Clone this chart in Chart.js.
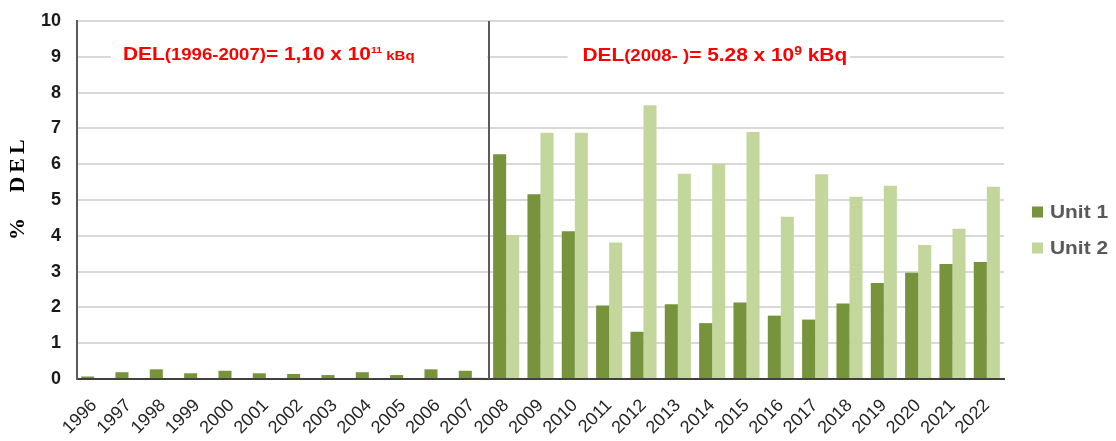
<!DOCTYPE html>
<html><head><meta charset="utf-8">
<script src="https://cdn.jsdelivr.net/npm/chart.js@4.4.0/dist/chart.umd.min.js"></script>
<style>html,body{margin:0;padding:0;background:#fff;overflow:hidden}</style>
</head><body>
<canvas id="c" width="1116" height="441" style="display:block;width:1116px;height:441px"></canvas>
<script>
const years = ['1996','1997','1998','1999','2000','2001','2002','2003','2004','2005','2006','2007',
  '2008','2009','2010','2011','2012','2013','2014','2015','2016','2017','2018','2019','2020','2021','2022'];
const unit1 = [0.07,0.19,0.27,0.16,0.23,0.16,0.14,0.11,0.19,0.11,0.27,0.23,
  6.28,5.16,4.13,2.05,1.32,2.09,1.56,2.14,1.77,1.66,2.11,2.68,2.97,3.21,3.27];
const unit2 = [null,null,null,null,null,null,null,null,null,null,null,0.04,
  4.02,6.88,6.88,3.81,7.65,5.73,6.01,6.90,4.53,5.72,5.09,5.40,3.74,4.20,5.37];
const seriesNames = ['Unit 1','Unit 2'];
const seriesColors = ['#77933C','#C3D69B'];
const yMin = 0, yMax = 10, yStep = 1;
const yTitle = ['%','DEL'];
const noteLeft = [{t:'DEL',size:18},{t:'(1996-2007)',size:16},{t:'= 1,10 x 10',size:18},{t:'11',size:9,rise:7},{t:' kBq',size:13}];
const noteRight = [{t:'DEL',size:18},{t:'(2008- )',size:16},{t:'= 5.28 x 10',size:18},{t:'9',size:12,rise:6},{t:' kBq',size:18}];

const SX = 1.16;
const SANS = '"Liberation Sans", Arial, sans-serif';
const SERIF = '"Liberation Serif", "Times New Roman", serif';

function drawRich(ctx, x0, yBase, segs){
  ctx.save();
  ctx.translate(x0, yBase);
  ctx.scale(SX, 1);
  ctx.fillStyle = '#FF0000';
  ctx.textBaseline = 'alphabetic';
  ctx.textAlign = 'left';
  let x = 0;
  for (const s of segs){
    ctx.font = `bold ${s.size}px ${SANS}`;
    ctx.fillText(s.t, x, -(s.rise || 0));
    x += ctx.measureText(s.t).width;
  }
  ctx.restore();
}

const decor = {
  id: 'decor',
  beforeDatasetsDraw(chart){
    const {ctx, chartArea:a, scales:{x, y}} = chart;
    ctx.save();
    ctx.fillStyle = '#fff';
    let l = x.getPixelForValue(0.49), r = x.getPixelForValue(11.45);
    ctx.fillRect(l, y.getPixelForValue(9.47), r - l, y.getPixelForValue(8.58) - y.getPixelForValue(9.47));
    l = x.getPixelForValue(13.79); r = x.getPixelForValue(22.02);
    ctx.fillRect(l, y.getPixelForValue(9.47), r - l, y.getPixelForValue(8.58) - y.getPixelForValue(9.47));
    const sx = (x.getPixelForValue(11) + x.getPixelForValue(12)) / 2;
    ctx.strokeStyle = '#5a5a5a';
    ctx.lineWidth = 2;
    ctx.beginPath();
    ctx.moveTo(sx, a.top);
    ctx.lineTo(sx, a.bottom);
    ctx.stroke();
    ctx.restore();
  },
  afterDraw(chart){
    const {ctx, chartArea:a, scales:{x, y}} = chart;
    drawRich(ctx, x.getPixelForValue(0.84), y.getPixelForValue(8.91), noteLeft);
    drawRich(ctx, x.getPixelForValue(14.22), y.getPixelForValue(8.88), noteRight);
    chart.data.datasets.forEach((ds, i) => {
      const cy = 212 + i * 36;
      ctx.save();
      ctx.fillStyle = ds.backgroundColor;
      ctx.fillRect(a.right + 28, cy - 5.5, 11, 11);
      ctx.translate(a.right + 46, cy);
      ctx.scale(SX, 1);
      ctx.fillStyle = '#595959';
      ctx.font = `bold 18px ${SANS}`;
      ctx.textBaseline = 'middle';
      ctx.textAlign = 'left';
      ctx.fillText(ds.label, 0, 1);
      ctx.restore();
    });
    ctx.save();
    ctx.fillStyle = '#000';
    ctx.font = `bold 22px ${SERIF}`;
    ctx.textBaseline = 'middle';
    ctx.textAlign = 'center';
    ctx.translate(18, 0);
    ctx.rotate(-Math.PI / 2);
    ctx.fillText(yTitle[0], -229, 0);
    try { ctx.letterSpacing = '4px'; } catch(e) {}
    ctx.fillText(yTitle[1], -164, 0);
    ctx.restore();
  }
};

new Chart(document.getElementById('c'), {
  type: 'bar',
  data: {
    labels: years,
    datasets: [
      {label: seriesNames[0], data: unit1, backgroundColor: seriesColors[0], borderWidth: 0},
      {label: seriesNames[1], data: unit2, backgroundColor: seriesColors[1], borderWidth: 0}
    ]
  },
  options: {
    responsive: false,
    devicePixelRatio: 1,
    animation: false,
    layout: {padding: {left: 0, right: 112, top: 21, bottom: 0}},
    datasets: {bar: {categoryPercentage: 0.76, barPercentage: 1.0}},
    plugins: {legend: {display: false}, tooltip: {enabled: false}},
    scales: {
      x: {
        grid: {display: false},
        border: {display: true, color: '#404040', width: 2},
        ticks: {color: '#262626', font: {family: SANS, size: 18}, maxRotation: 45, minRotation: 45, autoSkip: false, padding: 8},
        afterFit(s){ s.height = 62; s.paddingLeft = 0; s.paddingRight = 0; }
      },
      y: {
        min: yMin, max: yMax,
        grid: {color: '#d9d9d9', lineWidth: 2, drawTicks: false},
        border: {display: true, color: '#5a5a5a', width: 2},
        ticks: {stepSize: yStep, color: '#1a1a1a', font: {family: SANS, size: 18, weight: 'bold'}, padding: 16},
        afterFit(s){ s.width = 77; s.paddingTop = 0; s.paddingBottom = 0; }
      }
    }
  },
  plugins: [decor]
});
</script>
</body></html>
